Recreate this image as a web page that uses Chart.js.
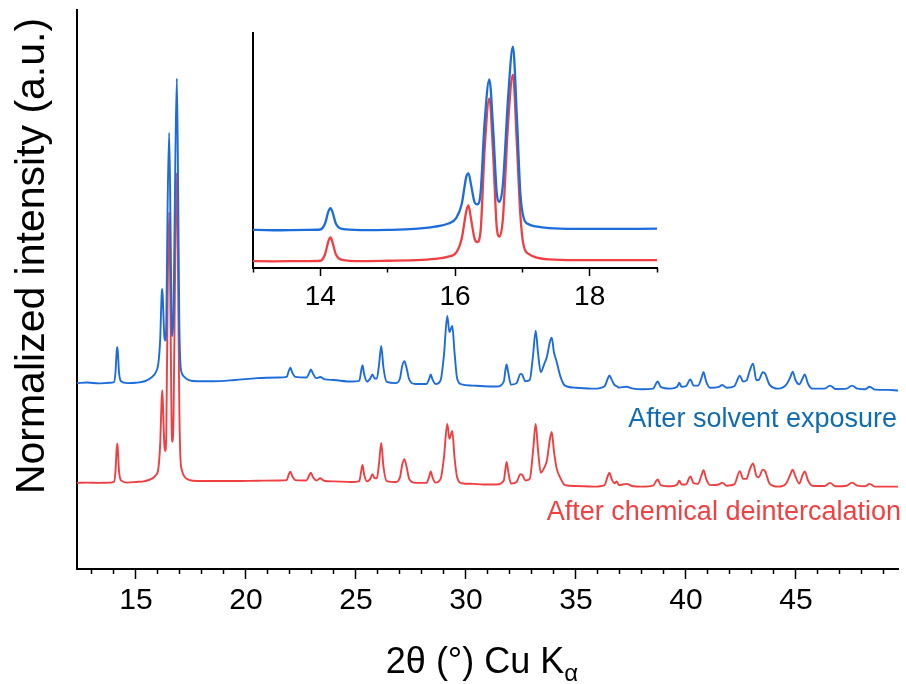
<!DOCTYPE html>
<html>
<head>
<meta charset="utf-8">
<script src="https://cdn.jsdelivr.net/npm/chart.js@4.4.1/dist/chart.umd.min.js"></script>
<style>
  html, body { margin: 0; padding: 0; background: #fff; }
  #wrap { position: relative; width: 906px; height: 684px; }
  #main { position: absolute; left: 0; top: 0; }
  #inset { position: absolute; left: 240px; top: 20px; }
</style>
</head>
<body>
<div id="wrap">
  <canvas id="main" width="906" height="684"></canvas>
  <canvas id="inset" width="430" height="300"></canvas>
</div>
<script>
// 2theta positions (deg), grouped by region
const twoTheta = [
  12.32, 12.8, 13.3, 13.8, 14.0, 14.07, 14.12, 14.15, 14.18, 14.23, 14.32, 14.6, 15.0,
  15.4, 15.7, 15.9, 16.02, 16.1, 16.17, 16.2, 16.24, 16.29, 16.33, 16.38, 16.44, 16.51, 16.57, 16.62, 16.66, 16.71, 16.79, 16.86, 16.92, 16.97, 17.02, 17.1, 17.2,
  17.4, 17.8, 18.5, 19.5, 20.5, 21.5, 21.85, 21.95, 22.02, 22.1, 22.25, 22.75, 22.88, 22.95, 23.05, 23.2, 23.38, 23.55, 24.0, 24.8,
  25.15, 25.25, 25.3, 25.37, 25.5, 25.65, 25.75, 25.85, 25.95, 26.05, 26.15, 26.25, 26.4, 26.8, 27.0, 27.1, 27.2, 27.3, 27.42, 27.7, 28.2, 28.32, 28.4, 28.48, 28.62,
  28.85, 29.0, 29.15, 29.25, 29.38, 29.48, 29.6, 29.8, 30.3, 30.8, 31.4, 31.72, 31.8, 31.85, 31.92, 32.05, 32.3, 32.48, 32.55, 32.7, 32.9, 33.05, 33.17, 33.28, 33.4, 33.55, 33.68, 33.82, 33.9, 34.0, 34.12, 34.3,
  34.5, 35.0, 35.8, 36.3, 36.45, 36.52, 36.62, 36.75, 36.85, 36.95, 37.3, 37.6, 38.0, 38.5, 38.72, 38.85, 39.3, 39.6, 39.7, 39.8, 40.0, 40.2, 40.35, 40.55, 40.7, 40.8, 40.92, 41.1, 41.5, 41.65, 41.85,
  42.2, 42.45, 42.6, 42.75, 42.9, 43.05, 43.2, 43.3, 43.5, 43.6, 43.8, 44.2, 44.55, 44.75, 44.85, 44.98, 45.15, 45.3, 45.4, 45.55, 45.75, 46.3, 46.55, 46.8, 47.3, 47.55, 47.8, 48.15, 48.35, 48.6, 49.2, 49.64
];

// normalized intensity, after chemical deintercalation (red)
const deintercalated = [
  -0.003, -0.002, -0.003, -0.002, 0.000, 0.035, 0.105, 0.125, 0.100, 0.035, 0.005, -0.002, 0.000,
  0.003, 0.010, 0.022, 0.045, 0.12, 0.27, 0.297, 0.22, 0.12, 0.10, 0.16, 0.60, 0.873, 0.55, 0.18, 0.13, 0.22, 0.75, 1.0, 0.62, 0.25, 0.08, 0.035, 0.018,
  0.007, 0.003, 0.003, 0.003, 0.004, 0.005, 0.006, 0.025, 0.033, 0.02, 0.006, 0.005, 0.022, 0.03, 0.015, 0.005, 0.012, 0.004, 0.002, 0.000,
  0.003, 0.04, 0.055, 0.025, 0.002, 0.01, 0.025, 0.012, 0.012, 0.06, 0.126, 0.05, 0.003, 0.000, 0.015, 0.055, 0.074, 0.05, 0.01, -0.003, -0.003, 0.015, 0.034, 0.015, -0.002,
  0.01, 0.08, 0.188, 0.14, 0.165, 0.08, 0.015, -0.004, -0.006, -0.008, -0.008, 0.005, 0.045, 0.065, 0.035, -0.005, 0.0, 0.025, 0.024, 0.005, 0.01, 0.10, 0.188, 0.10, 0.03, 0.045, 0.07, 0.14, 0.162, 0.10, 0.045, 0.012,
  -0.01, -0.013, -0.015, -0.01, 0.02, 0.03, 0.01, -0.004, 0.002, -0.01, -0.006, -0.014, -0.015, -0.012, 0.008, -0.01, -0.014, -0.008, 0.004, -0.008, -0.008, 0.018, -0.004, -0.006, 0.02, 0.038, 0.01, -0.01, -0.008, -0.002, -0.012,
  -0.008, 0.035, 0.01, 0.01, 0.04, 0.06, 0.02, 0.015, 0.04, 0.035, -0.005, -0.015, -0.005, 0.025, 0.04, 0.018, -0.005, 0.022, 0.034, 0.005, -0.012, -0.013, -0.003, -0.014, -0.012, -0.002, -0.012, -0.014, -0.006, -0.015, -0.015, -0.015
];

// normalized intensity, after solvent exposure (blue), before offset
const solventExposed = [
  0.000, 0.002, -0.001, 0.001, 0.003, 0.035, 0.100, 0.117, 0.098, 0.035, 0.006, 0.000, 0.001,
  0.006, 0.018, 0.035, 0.065, 0.14, 0.29, 0.305, 0.24, 0.15, 0.138, 0.20, 0.58, 0.81, 0.52, 0.20, 0.152, 0.24, 0.72, 0.986, 0.60, 0.20, 0.065, 0.03, 0.02,
  0.010, 0.006, 0.006, 0.010, 0.016, 0.018, 0.020, 0.040, 0.050, 0.035, 0.020, 0.018, 0.033, 0.044, 0.030, 0.016, 0.020, 0.013, 0.010, 0.005,
  0.007, 0.045, 0.058, 0.03, 0.005, 0.015, 0.028, 0.015, 0.015, 0.06, 0.12, 0.05, 0.004, 0.000, 0.015, 0.055, 0.071, 0.05, 0.012, -0.003, -0.003, 0.012, 0.028, 0.012, -0.003,
  0.01, 0.09, 0.217, 0.165, 0.185, 0.1, 0.015, -0.004, -0.008, -0.010, -0.011, 0.005, 0.045, 0.06, 0.035, -0.005, 0.0, 0.03, 0.028, 0.006, 0.01, 0.09, 0.17, 0.095, 0.035, 0.06, 0.085, 0.135, 0.147, 0.10, 0.07, 0.02,
  -0.008, -0.015, -0.018, -0.01, 0.015, 0.025, 0.012, -0.006, -0.01, -0.014, -0.012, -0.018, -0.02, -0.018, 0.005, -0.012, -0.018, -0.012, 0.001, -0.012, -0.01, 0.012, -0.008, -0.008, 0.015, 0.035, 0.005, -0.015, -0.012, -0.006, -0.015,
  -0.01, 0.024, 0.005, 0.008, 0.04, 0.063, 0.01, 0.01, 0.035, 0.03, -0.005, -0.018, -0.006, 0.02, 0.037, 0.01, -0.004, 0.015, 0.028, -0.002, -0.018, -0.018, -0.008, -0.019, -0.018, -0.008, -0.018, -0.02, -0.012, -0.021, -0.022, -0.024
];

// axis ticks
const mainMajorTicks = [15, 20, 25, 30, 35, 40, 45];
const mainMinorTicks = [13, 14, 16, 17, 18, 19, 21, 22, 23, 24, 26, 27, 28, 29, 31, 32, 33, 34, 36, 37, 38, 39, 41, 42, 43, 44, 46, 47, 48, 49];
const insetMajorTicks = [14, 16, 18];
const insetMinorTicks = [13, 15, 17, 19];

// vertical offset of the blue trace in each panel
const MAIN_OFFSET = 0.32;
const INSET_OFFSET = 0.165;

const RED = '#ef3f42';
const BLUE = '#1c6cdc';
const FONT = '"Liberation Sans", Arial, sans-serif';

function points(values, offset) {
  return twoTheta.map((x, i) => ({ x: x, y: values[i] + offset }));
}

// blue first so it is painted on top of red
function xrdDatasets(offset, width) {
  return [
    { label: 'After solvent exposure', data: points(solventExposed, offset), borderColor: BLUE,
      borderWidth: width, pointRadius: 0, cubicInterpolationMode: 'monotone' },
    { label: 'After chemical deintercalation', data: points(deintercalated, 0), borderColor: RED,
      borderWidth: width, pointRadius: 0, cubicInterpolationMode: 'monotone' }
  ];
}

function tickSetter(list) {
  return scale => { scale.ticks = list.map(v => ({ value: v })); };
}

// axis titles and series labels
const textPlugin = {
  id: 'xrdText',
  afterDraw(chart) {
    const ctx = chart.ctx;
    ctx.save();
    ctx.fillStyle = '#000';
    ctx.font = '41px ' + FONT;
    ctx.textAlign = 'center';
    ctx.textBaseline = 'middle';
    ctx.translate(33, 256);
    ctx.rotate(-Math.PI / 2);
    ctx.fillText('Normalized intensity (a.u.)', 0, 0);
    ctx.restore();

    ctx.save();
    ctx.fillStyle = '#000';
    ctx.textBaseline = 'alphabetic';
    ctx.textAlign = 'left';
    ctx.font = '36px ' + FONT;
    const mainText = '2θ (°) Cu K';
    const w1 = ctx.measureText(mainText).width;
    ctx.font = '24px ' + FONT;
    const w2 = ctx.measureText('α').width;
    const x0 = 482 - (w1 + w2) / 2;
    ctx.font = '36px ' + FONT;
    ctx.fillText(mainText, x0, 673);
    ctx.font = '24px ' + FONT;
    ctx.fillText('α', x0 + w1, 681);

    ctx.textAlign = 'right';
    ctx.font = '27px ' + FONT;
    ctx.fillStyle = '#0f6cb2';
    ctx.fillText('After solvent exposure', 897, 427);
    ctx.fillStyle = '#f04040';
    ctx.fillText('After chemical deintercalation', 901, 520);
    ctx.restore();
  }
};

// main pattern
const Y_MIN = -0.2816;
const Y_MAX = 1.5275;
new Chart(document.getElementById('main'), {
  type: 'line',
  data: { datasets: xrdDatasets(MAIN_OFFSET, 1.9) },
  options: {
    responsive: false,
    animation: false,
    devicePixelRatio: 1,
    layout: { padding: { top: 10, right: 8, left: 0, bottom: 0 } },
    plugins: { legend: { display: false }, tooltip: { enabled: false } },
    scales: {
      x: {
        type: 'linear', min: 12.32, max: 49.64,
        afterBuildTicks: tickSetter(mainMajorTicks),
        afterFit: s => { s.height = 115; },
        grid: { drawOnChartArea: false, tickLength: 10, tickWidth: 1.5, tickColor: '#000' },
        border: { color: '#000', width: 2 },
        ticks: { color: '#000', font: { family: FONT, size: 30 }, padding: 4, maxRotation: 0, autoSkip: false }
      },
      xMinor: {
        type: 'linear', axis: 'x', position: { y: Y_MIN }, min: 12.32, max: 49.64,
        afterBuildTicks: tickSetter(mainMinorTicks),
        grid: { drawOnChartArea: false, tickLength: 5, tickWidth: 1.5, tickColor: '#000' },
        border: { display: false },
        ticks: { display: false }
      },
      y: {
        min: Y_MIN, max: Y_MAX,
        afterFit: s => { s.width = 77; },
        grid: { display: false },
        border: { color: '#000', width: 2 },
        ticks: { display: false }
      }
    }
  },
  plugins: [textPlugin]
});

// inset, 13-19 deg
const IY_MIN = -0.039;
const IY_MAX = 1.224;
new Chart(document.getElementById('inset'), {
  type: 'line',
  data: { datasets: xrdDatasets(INSET_OFFSET, 2.3) },
  options: {
    responsive: false,
    animation: false,
    devicePixelRatio: 1,
    layout: { padding: { top: 13, right: 13, left: 0, bottom: 0 } },
    plugins: { legend: { display: false }, tooltip: { enabled: false } },
    scales: {
      x: {
        type: 'linear', min: 13, max: 19,
        afterBuildTicks: tickSetter(insetMajorTicks),
        afterFit: s => { s.height = 52; },
        grid: { drawOnChartArea: false, tickLength: 8, tickWidth: 1.5, tickColor: '#000' },
        border: { color: '#000', width: 2 },
        ticks: { color: '#000', font: { family: FONT, size: 28 }, padding: 4, maxRotation: 0, autoSkip: false }
      },
      xMinor: {
        type: 'linear', axis: 'x', position: { y: IY_MIN }, min: 13, max: 19,
        afterBuildTicks: tickSetter(insetMinorTicks),
        grid: { drawOnChartArea: false, tickLength: 4.5, tickWidth: 1.5, tickColor: '#000' },
        border: { display: false },
        ticks: { display: false }
      },
      y: {
        min: IY_MIN, max: IY_MAX,
        afterFit: s => { s.width = 13; },
        grid: { display: false },
        border: { color: '#000', width: 2 },
        ticks: { display: false }
      }
    }
  }
});
</script>
</body>
</html>
